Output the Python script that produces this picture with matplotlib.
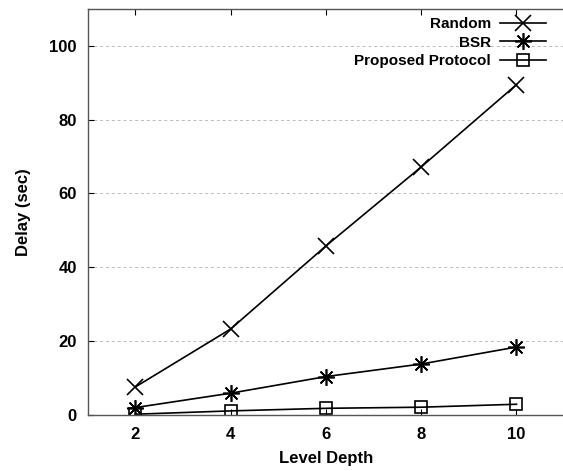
import matplotlib
matplotlib.use("Agg")
import matplotlib.pyplot as plt

# values
level_depth = [2, 4, 6, 8, 10]
random_delay = [7.6, 23.3, 45.8, 67.2, 89.5]
bsr_delay = [2.0, 5.9, 10.4, 13.8, 18.4]
proposed_delay = [0.2, 1.1, 1.8, 2.1, 2.9]

x_ticks = [2, 4, 6, 8, 10]
y_ticks = [0, 20, 40, 60, 80, 100]

plt.rcParams["font.family"] = ["Liberation Sans", "DejaVu Sans"]
plt.rcParams["font.weight"] = "bold"

fig = plt.figure(figsize=(5.63, 4.71), dpi=100)
ax = fig.add_axes([0.156, 0.119, 0.846, 0.862])

line_kw = dict(color="black", lw=1.2, markeredgewidth=1.2)
ax.plot(level_depth, random_delay, marker="x", markersize=11, label="Random", **line_kw)
ax.plot(level_depth, bsr_delay, marker=(8, 2, 0), markersize=12, label="BSR", **line_kw)
ax.plot(level_depth, proposed_delay, marker="s", markersize=9, fillstyle="none",
        label="Proposed Protocol", **line_kw)

ax.set_xlim(1, 11)
ax.set_ylim(0, 110)
ax.set_xticks(x_ticks)
ax.set_yticks(y_ticks)
ax.tick_params(axis="x", direction="in", top=True, length=4, pad=9, labelsize=12)
ax.tick_params(axis="y", direction="in", length=4, pad=8, labelsize=12)
for lab in ax.get_xticklabels() + ax.get_yticklabels():
    lab.set_fontweight("bold")

ax.spines["right"].set_visible(False)
for s in ("left", "bottom", "top"):
    ax.spines[s].set_color("#555555")
    ax.spines[s].set_linewidth(1.0)

ax.yaxis.grid(True, linestyle=(0, (3, 3)), color="#bbbbbb", lw=0.7)
ax.set_axisbelow(True)

ax.set_xlabel("Level Depth", fontsize=12, fontweight="bold", labelpad=6)
ax.set_ylabel("Delay (sec)", fontsize=12, fontweight="bold", labelpad=13)

leg = ax.legend(loc="upper right", bbox_to_anchor=(0.98, 1.0), frameon=False,
                markerfirst=False, handlelength=3.0, fontsize=11,
                labelspacing=0.28, borderaxespad=0.15, handletextpad=0.6)
for t in leg.get_texts():
    t.set_fontweight("bold")

fig.savefig("out.png", dpi=100)
